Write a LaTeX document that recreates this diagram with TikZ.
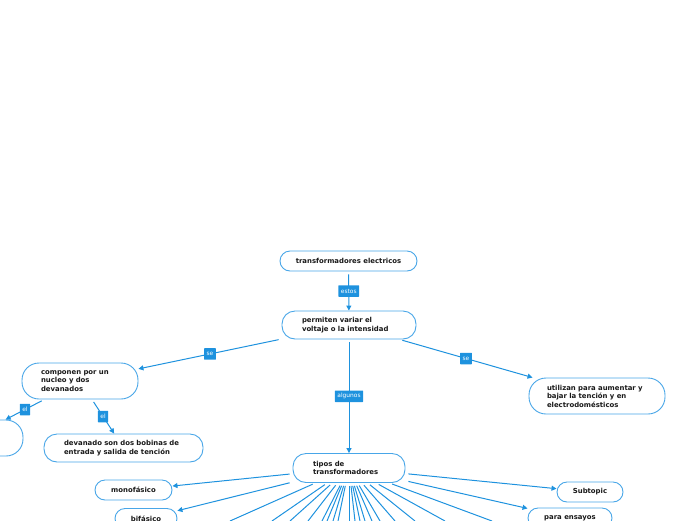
\documentclass[tikz,border=0pt]{standalone}
\usepackage{fontspec}
\setmainfont{DejaVu Sans}
\usetikzlibrary{arrows.meta}
\definecolor{lineblue}{RGB}{30,146,222}
\definecolor{boxblue}{RGB}{72,166,232}
\definecolor{tagblue}{RGB}{30,146,222}
\tikzset{
  topic/.style={draw=boxblue, line width=0.9pt, fill=white,
    font=\fontsize{6.9}{8.5}\selectfont\bfseries, text=black!90},
  conn/.style={draw=lineblue, line width=1pt, shorten <=3pt,
    -{Triangle[length=5pt,width=5pt]}},
  fanline/.style={draw=lineblue, line width=1pt, shorten <=3pt},
  tag/.style={fill=tagblue, text=white, font=\fontsize{5.9}{6}\selectfont,
    inner xsep=2.5pt, inner ysep=0pt, minimum height=11.5pt, rounded corners=0.5pt}
}
\begin{document}
\begin{tikzpicture}[x=1pt,y=-1pt]
\useasboundingbox (0,0) rectangle (696,520);

% nodes
\node[topic, rounded corners=10pt, minimum width=137pt, minimum height=20pt] (te) at (348.5,261) {transformadores electricos};
\node[topic, rounded corners=13pt, text width=94pt, inner xsep=20pt, minimum height=28pt, align=left] (pv) at (349,325) {permiten variar el\\voltaje o la intensidad};
\node[topic, rounded corners=17pt, text width=78pt, inner xsep=19pt, minimum height=36pt, align=left] (cp) at (80,381) {componen por un\\nucleo y dos\\devanados};
\node[topic, rounded corners=17pt, minimum width=106pt, minimum height=36pt] (nu) at (-30,438) {};
\node[topic, rounded corners=13pt, text width=119pt, inner xsep=20pt, minimum height=28pt, align=left] (dv) at (123.5,448) {devanado son dos bobinas de\\entrada y salida de tención};
\node[topic, rounded corners=17pt, text width=100pt, inner xsep=18pt, minimum height=36pt, align=left] (ut) at (597,396) {utilizan para aumentar y\\bajar la tención y en\\electrodomésticos};
\node[topic, rounded corners=13pt, text width=72pt, inner xsep=20pt, minimum height=29pt, align=left] (tp) at (349,468) {tipos de\\transformadores};
\node[topic, rounded corners=10pt, minimum width=77pt, minimum height=20pt] (mo) at (133.5,490) {monofásico};
\node[topic, rounded corners=10pt, minimum width=62pt, minimum height=20pt] (bi) at (146,518.5) {bifásico};
\node[topic, rounded corners=10pt, minimum width=66pt, minimum height=20pt] (su) at (590,492) {Subtopic};
\node[topic, rounded corners=10pt, minimum width=84pt, minimum height=20pt] (pe) at (570,518) {para ensayos};

% connectors
\draw[conn] (te) -- node[tag] {estos} (pv);
\draw[conn] (pv) -- node[tag] {se} (cp);
\draw[conn] (cp) -- node[tag] {el} (nu);
\draw[conn] (cp) -- node[tag] {el} (dv);
\draw[conn] (pv) -- node[tag] {se} (ut);
\draw[conn] (pv) -- node[tag] {algunos} (tp);
\draw[conn] (tp) -- (mo);
\draw[conn] (tp) -- (bi);
\draw[conn] (tp) -- (su);
\draw[conn] (tp) -- (pe);

% fan of connectors to children below the visible area
\foreach \xx [count=\i] in {230,272,290,308,322,327,333,338,349,355,360,365,372,380,395,415,445,492}
  \coordinate (f\i) at (\xx,521);
\foreach \i in {1,...,18}
  \draw[fanline] (tp) -- (f\i);
\end{tikzpicture}
\end{document}
